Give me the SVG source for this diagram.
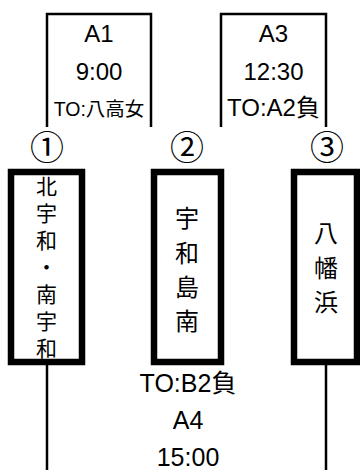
<svg xmlns="http://www.w3.org/2000/svg" width="360" height="470" viewBox="0 0 360 470">
<style>
.t{font-family:"Liberation Sans","Noto Sans CJK JP",sans-serif;fill:#000;text-anchor:middle}
.j{font-family:"Noto Sans CJK JP","Liberation Sans",sans-serif;fill:#000;text-anchor:middle}
.c{font-family:"Noto Sans CJK JP",sans-serif;fill:#000;text-anchor:middle;font-size:34px}
.b{fill:#fff;stroke:#000;stroke-width:6.5}
.l{fill:none;stroke:#000;stroke-width:2.5}
</style>
<rect width="360" height="470" fill="#fff"/>
<g id="connectors">
<path class="l" d="M47,127V14H151V127"/>
<path class="l" d="M221,127V14H326V127"/>
<path class="l" d="M47,365V470"/>
<path class="l" d="M326,365V470"/>
</g>
<g id="match-a1">
<text class="t" x="99" y="42" font-size="24">A1</text>
<text class="t" x="99" y="80" font-size="24">9:00</text>
<text class="t" x="99" y="116" font-size="19.5">TO:八高女</text>
</g>
<g id="match-a3">
<text class="t" x="273.5" y="42" font-size="24">A3</text>
<text class="t" x="273.5" y="80" font-size="24">12:30</text>
<text class="t" x="273.5" y="116" font-size="24">TO:A2負</text>
</g>
<g id="match-a4">
<text class="t" x="188" y="392" font-size="25">TO:B2負</text>
<text class="t" x="188" y="429" font-size="25">A4</text>
<text class="t" x="188" y="465.5" font-size="25">15:00</text>
</g>
<g id="team1">
<text class="c" x="47" y="160">①</text>
<rect class="b" x="11" y="172" width="71" height="190"/>
<text class="j" x="46.5" y="194" font-size="21">北</text>
<text class="j" x="46.5" y="221" font-size="21">宇</text>
<text class="j" x="46.5" y="248" font-size="21">和</text>
<text class="j" x="46.5" y="275" font-size="21">・</text>
<text class="j" x="46.5" y="302" font-size="21">南</text>
<text class="j" x="46.5" y="329" font-size="21">宇</text>
<text class="j" x="46.5" y="356" font-size="21">和</text>
</g>
<g id="team2">
<text class="c" x="187" y="160">②</text>
<rect class="b" x="154" y="172" width="67" height="190"/>
<text class="j" x="187" y="227" font-size="24">宇</text>
<text class="j" x="187" y="262" font-size="24">和</text>
<text class="j" x="187" y="296" font-size="24">島</text>
<text class="j" x="187" y="330" font-size="24">南</text>
</g>
<g id="team3">
<text class="c" x="327" y="160">③</text>
<rect class="b" x="294" y="172" width="63" height="190"/>
<text class="j" x="326" y="242" font-size="24">八</text>
<text class="j" x="326" y="277" font-size="24">幡</text>
<text class="j" x="326" y="311" font-size="24">浜</text>
</g>
</svg>
